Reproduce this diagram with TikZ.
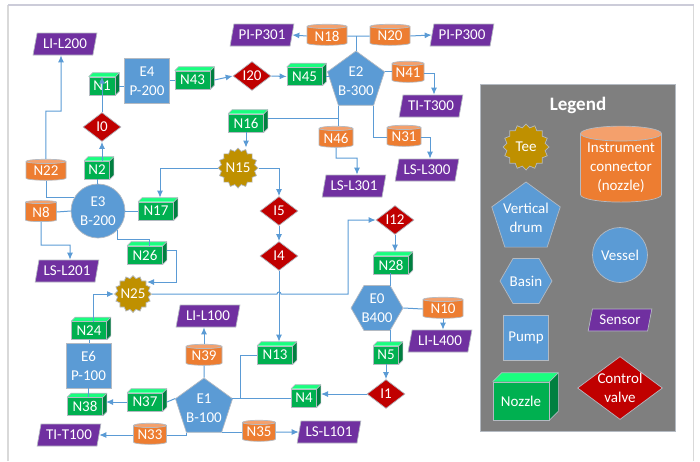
\documentclass[tikz,border=0pt]{standalone}
\usepackage{fontspec}
\setmainfont{Carlito}
\usetikzlibrary{arrows.meta,shapes.geometric,shapes.symbols}
\definecolor{flowblue}{HTML}{5B9BD5}
\definecolor{unitblue}{HTML}{5B9BD5}
\definecolor{edgegray}{HTML}{B4BAC2}
\definecolor{nozzlegreen}{HTML}{00B050}
\definecolor{nozzletop}{HTML}{19FF7F}
\definecolor{nozzleside}{HTML}{008040}
\definecolor{conorange}{HTML}{ED7D31}
\definecolor{contop}{HTML}{F4A06C}
\definecolor{sensorpurple}{HTML}{7030A0}
\definecolor{valvered}{HTML}{C00000}
\definecolor{teegold}{HTML}{BF9000}
\definecolor{legendgray}{HTML}{7F7F7F}
\tikzset{
  label text/.style={text=white,font=\fontsize{15}{19}\selectfont,align=center},
  box edge/.style={draw=edgegray,line width=0.7pt,label text},
  flow/.style={draw=flowblue,line width=1pt},
  arrow/.style={flow,-{Latex[length=7pt,width=6pt]}},
  nozzle/.style={box edge,rectangle,fill=nozzlegreen,minimum width=35pt,minimum height=18pt,inner sep=0pt,
    append after command={\pgfextra{
      \fill[nozzletop] (\tikzlastnode.north west) -- ++(#1,-#1) -- ([xshift=#1 pt,yshift=#1 pt]\tikzlastnode.north east) -- (\tikzlastnode.north east) -- cycle;
      \fill[nozzleside] (\tikzlastnode.north east) -- ++(#1,-#1) -- ([xshift=#1 pt,yshift=#1 pt]\tikzlastnode.south east) -- (\tikzlastnode.south east) -- cycle;
      \draw[edgegray,line width=0.7pt,line join=round] (\tikzlastnode.north west) -- ++(#1,-#1) -- ([xshift=#1 pt,yshift=#1 pt]\tikzlastnode.north east) -- ([xshift=#1 pt,yshift=#1 pt]\tikzlastnode.south east) -- (\tikzlastnode.south east);
      \draw[edgegray,line width=0.7pt] (\tikzlastnode.north east) -- ++(#1,-#1);
    }}},
  nozzle/.default=4,
  connector/.style={box edge,cylinder,shape border rotate=90,shape aspect=0.17,cylinder uses custom fill,
    cylinder body fill=conorange,cylinder end fill=contop,minimum width=40pt,minimum height=21pt,inner sep=0pt,yshift=-1pt},
  sensor/.style={box edge,trapezium,trapezium left angle=72,trapezium right angle=108,trapezium stretches=true,
    fill=sensorpurple,minimum width=64pt,minimum height=22pt,inner sep=0pt},
  valve/.style={box edge,diamond,aspect=1.3,fill=valvered,minimum width=38pt,minimum height=29pt,inner sep=0pt},
  tee/.style={box edge,star,star points=16,star point ratio=1.18,fill=teegold,minimum size=40pt,inner sep=-6pt},
  drum/.style={box edge,regular polygon,regular polygon sides=5,fill=unitblue,minimum size=60pt,inner sep=-7pt},
  basin/.style={box edge,regular polygon,regular polygon sides=6,fill=unitblue,minimum size=52pt,inner sep=-6pt},
  vessel/.style={box edge,circle,fill=unitblue,minimum size=54pt,inner sep=-1pt},
  pump/.style={box edge,rectangle,fill=unitblue,minimum size=45pt,inner sep=0pt}
}
\begin{document}
\begin{tikzpicture}[x=1pt,y=-1pt]
  \useasboundingbox (0,0) rectangle (700,461);
  \draw[color=black!15,line width=1.5pt] (8,461) -- (8,5);
  \draw[color=black!15,line width=1.5pt] (693.5,461) -- (693.5,5);
  \draw[color=blue!25!black!20,line width=1.2pt] (8,5) -- (693.5,5);

  \node[sensor] (LIL200) at (65,44) {LI-L200};
  \node[nozzle,minimum width=26pt] (N1) at (102,86) {N1};
  \node[pump] (E4) at (147,81) {E4\\P-200};
  \node[nozzle] (N43) at (192.5,80) {N43};
  \node[valve] (I0) at (102,127) {I0};
  \node[nozzle,minimum width=25pt] (N2) at (97,170) {N2};
  \node[connector] (N22) at (46,170) {N22};
  \node[connector,minimum width=31pt] (N8) at (41,211) {N8};
  \node[vessel] (E3) at (98,211) {E3\\B-200};
  \node[nozzle] (N17) at (156,211) {N17};
  \node[tee] (N15) at (238,168) {N15};
  \node[nozzle] (N16) at (246,123) {N16};
  \node[nozzle] (N45) at (304.5,76.5) {N45};
  \node[valve] (I20) at (252,76) {I20};
  \node[sensor] (PIP301) at (262,35) {PI-P301};
  \node[connector] (N18) at (327,35) {N18};
  \node[connector] (N20) at (390,35) {N20};
  \node[sensor] (PIP300) at (462,35) {PI-P300};
  \node[drum] (E2) at (356,81) {E2\\B-300};
  \node[connector,minimum width=32pt] (N41) at (408,72) {N41};
  \node[sensor] (TIT300) at (431,106) {TI-T300};
  \node[connector,minimum width=34pt] (N46) at (336,137) {N46};
  \node[connector,minimum width=34pt] (N31) at (404,136) {N31};
  \node[sensor] (LSL300) at (427,170) {LS-L300};
  \node[sensor] (LSL301) at (354,186) {LS-L301};
  \node[valve] (I5) at (279,211) {I5};
  \node[valve] (I4) at (279,256) {I4};
  \node[valve] (I12) at (395,220) {I12};
  \node[nozzle] (N28) at (391,265) {N28};
  \node[basin] (E0) at (377,308) {E0\\B400};
  \node[connector] (N10) at (443,308) {N10};
  \node[sensor] (LIL400) at (440,341) {LI-L400};
  \node[nozzle,minimum width=25pt] (N5) at (386,355) {N5};
  \node[valve] (I1) at (386,394) {I1};
  \node[nozzle,minimum width=25pt] (N4) at (304,398) {N4};
  \node[nozzle] (N13) at (275,355) {N13};
  \node[connector,minimum width=33pt] (N35) at (259,431) {N35};
  \node[sensor] (LSL101) at (329,432) {LS-L101};
  \node[nozzle] (N26) at (145,255) {N26};
  \node[sensor] (LSL201) at (67,271) {LS-L201};
  \node[tee,minimum size=37pt] (N25) at (133,294) {N25};
  \node[sensor] (LIL100) at (208,316) {LI-L100};
  \node[nozzle] (N24) at (89,330.5) {N24};
  \node[pump] (E6) at (88.5,365.5) {E6\\P-100};
  \node[nozzle] (N38) at (85,406.5) {N38};
  \node[nozzle] (N37) at (145,402) {N37};
  \node[connector,minimum width=36pt] (N39) at (204,355) {N39};
  \node[drum] (E1) at (204,408) {E1\\B-100};
  \node[connector,minimum width=33pt] (N33) at (150,434) {N33};
  \node[sensor] (TIT100) at (69,435) {TI-T100};

  \draw[flow] ([xshift=4pt]N1.east) -- (N1.east -| E4.west);
  \draw[flow] (N43.west -| E4.east) -- (N43.west);
  \draw[arrow] ([xshift=4pt]N43.east) -- (I20.west);
  \draw[arrow] (I20.east) -- (N45.west);
  \draw[flow] ([xshift=4pt]N45.east) -- (E2.west |- N45.east);
  \draw[arrow] (I0.north) -- (N1.north -| I0.north);
  \draw[arrow] (I0.south |- N2.north) -- (I0.south);
  \draw[flow] (N2.south) -- (E3.north -| N2.south);
  \draw[arrow] (N22.north) |- (61,111) -- ([xshift=-4pt]LIL200.south);
  \draw[flow] (N22.south) |- (E3.150);
  \draw[flow] (N8.east) -- (E3.west);
  \draw[arrow] (N8.south) |- (70,245) -- ([xshift=3pt]LSL201.north);
  \draw[flow] (E3.east) -- (N17.west);
  \draw[arrow] (N15.west) -| ([xshift=4pt,yshift=4pt]N17.north);
  \draw[arrow] (N16.south) -- (N15.north -| N16.south);
  \draw[flow] (E2.-126) -- (N46.north -| E2.-126);
  \draw[flow] (E2.-126 |- 0,118) -- ([xshift=4pt]N16.east |- 0,118);
  \draw[arrow] (N46.south) |- (357,158) -- ([xshift=3pt]LSL301.north);
  \draw[flow] (E2.-54) |- (N31.west);
  \draw[arrow] (N31.east) -| ([xshift=3pt]LSL300.north);
  \draw[flow] (E2.18) -- (N41.west |- E2.18);
  \draw[arrow] (N41.east) -| ([xshift=3pt]TIT300.north);
  \draw[arrow] (N18.west) -- (PIP301.east);
  \draw[flow] (N18.east) -- (N20.west);
  \draw[flow] (E2.north) -- (E2.north |- N18.east);
  \draw[arrow] (N20.east) -- (PIP300.west);
  \draw[arrow] (N15.east) -| (I5.north);
  \draw[arrow] (I5.south) -- (I4.north);
  \draw[arrow] (I4.south) -- ([yshift=4pt]N13.north -| I4.south);
  \draw[arrow] (N25.east) -- (277,294) arc[start angle=180,end angle=360,radius=2] -- (348,294) |- (I12.west);
  \draw[arrow] (I12.south) -- ([yshift=4pt]N28.north -| I12.south);
  \draw[flow] (390,273) -- (390,286);
  \draw[flow] (390,330) -- (390,342);
  \draw[flow] (E0.east) -- (N10.west);
  \draw[arrow] (N10.south) -- (LIL400.north -| N10.south);
  \draw[arrow] (N5.south) -- (I1.north);
  \draw[arrow] (I1.west) -- (321,394);
  \draw[flow] (232,398) -- (N4.west);
  \draw[flow] (N13.west) -| (240,398);
  \draw[flow] (N33.east) -| (E1.-126);
  \draw[flow] (E1.-54) -- (N35.west |- E1.-54);
  \draw[arrow] (N35.east) -- (LSL101.west);
  \draw[arrow] (N33.west) -- (TIT100.east |- N33.west);
  \draw[flow] (E1.162) -- (167,402);
  \draw[arrow] (N37.west) -- (106,402);
  \draw[flow] (E1.north) -- (N39.south);
  \draw[arrow] (N39.north) -- (LIL100.south -| N39.north);
  \draw[flow] (N24.south) -- (N24.south |- E6.north);
  \draw[flow] (E6.south) -- (E6.south |- N38.north);
  \draw[arrow] (93,322) |- (N25.west);
  \draw[flow] (E3.-45) |- (149,239) -- ([xshift=4pt]N26.north);
  \draw[arrow] (167,250) -| (176,282) -- (147,282);

  \node[rectangle,draw=edgegray,fill=legendgray,minimum width=195pt,minimum height=347pt,inner sep=0pt] (legendbox) at (577.5,257.5) {};
  \node[text=white,font=\fontsize{19}{20}\bfseries\selectfont] (legendtitle) at (578,105) {Legend};
  \node[tee,minimum size=46pt] (keytee) at (526,147) {Tee};
  \node[connector,minimum width=81pt,minimum height=76pt,shape aspect=0.22,yshift=1pt] (keycon) at (621,168) {Instrument\\connector\\(nozzle)};
  \node[drum,minimum size=72pt,inner sep=-4pt] (keydrum) at (526,218) {Vertical\\drum};
  \node[vessel,minimum size=55pt] (keyvessel) at (620,255) {Vessel};
  \node[basin] (keybasin) at (526,281) {Basin};
  \node[pump] (keypump) at (526,338) {Pump};
  \node[sensor] (keysensor) at (620,320) {Sensor};
  \node[nozzle=9,minimum width=56pt,minimum height=38pt] (keynozzle) at (521,401) {Nozzle};
  \node[valve,minimum width=85pt,minimum height=63pt,inner sep=-3pt] (keyvalve) at (620,388) {Control\\valve};
\end{tikzpicture}
\end{document}
